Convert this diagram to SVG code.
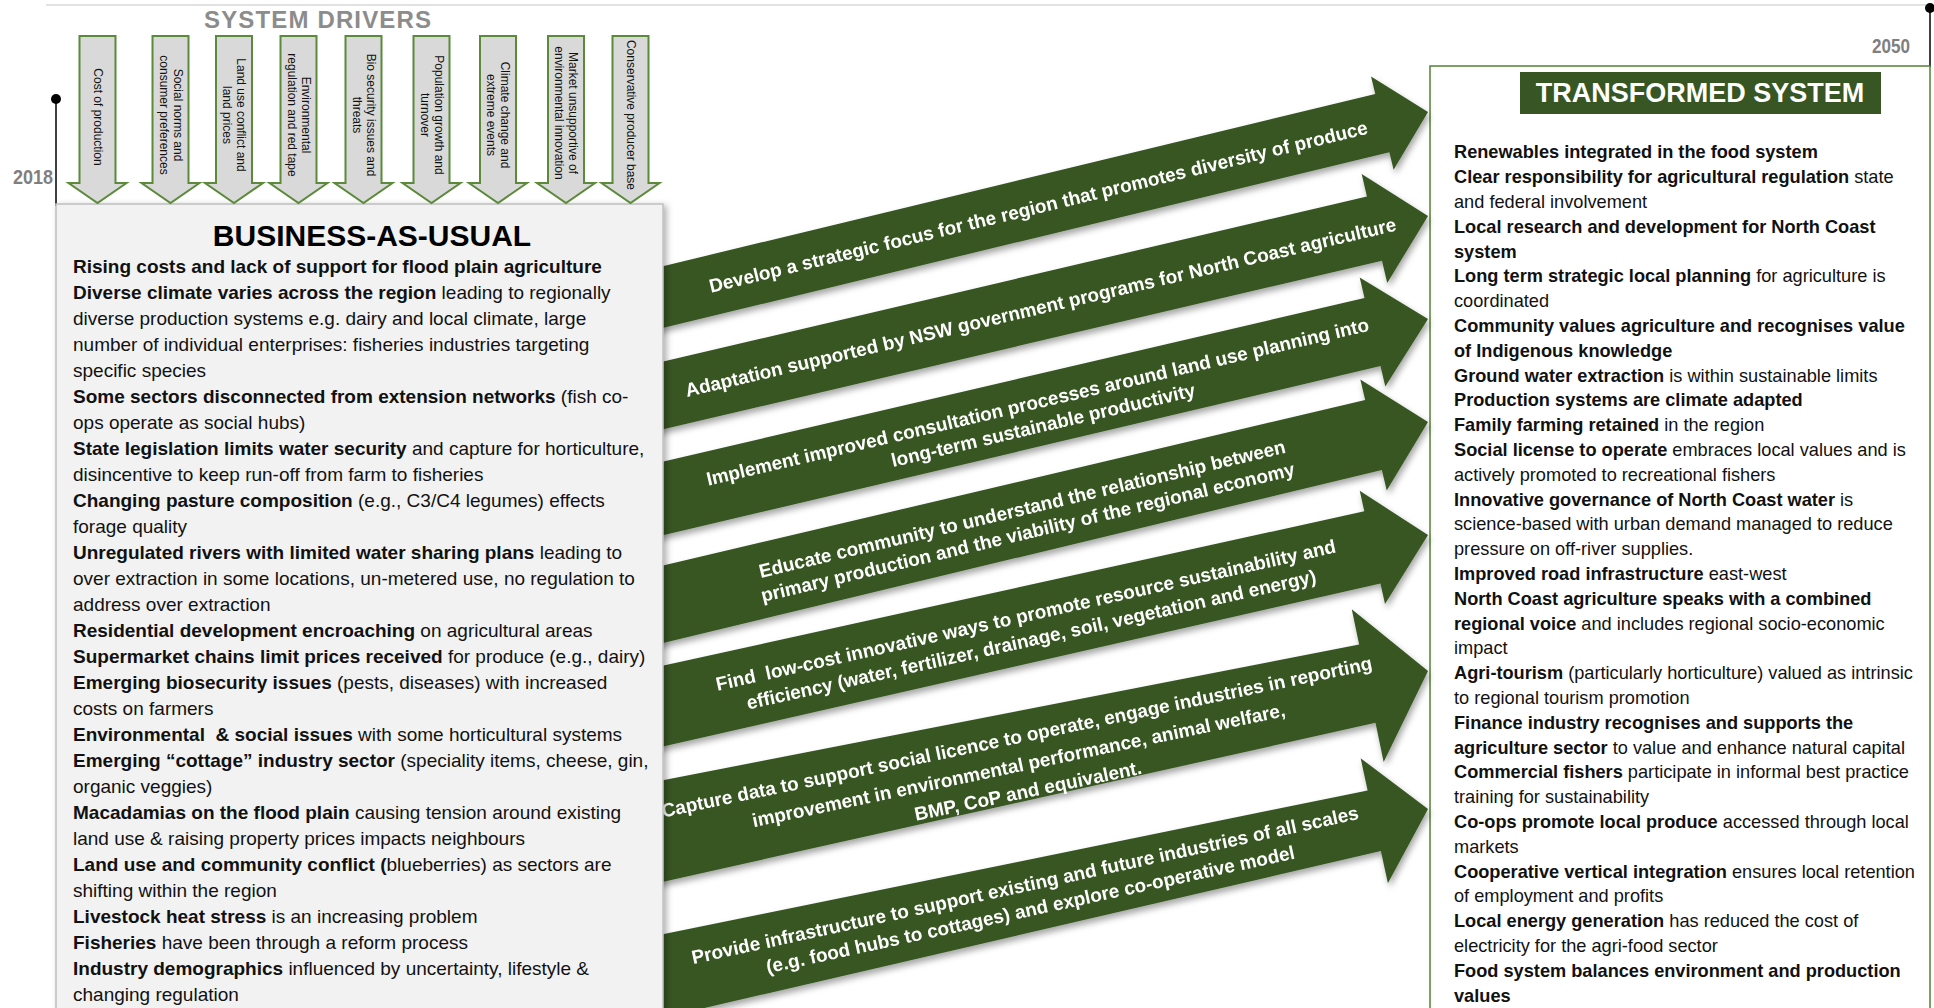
<svg xmlns="http://www.w3.org/2000/svg" width="1934" height="1008" viewBox="0 0 1934 1008">
<defs>
<style>
.t{font-family:"Liberation Sans",Arial,Helvetica,sans-serif}
.b{font-weight:bold}
.bau{font-size:19px;fill:#111}
.ts{font-size:18.2px;fill:#111}
.at{font-family:"Liberation Sans",Arial,Helvetica,sans-serif;font-size:19px;font-weight:bold;fill:#fff;text-anchor:middle}
.drv{font-family:"Liberation Sans",Arial,Helvetica,sans-serif;font-size:12px;fill:#111;text-anchor:middle}
.ga{fill:#375623}
.da{fill:#d9d9d9;stroke:#5a8a3a;stroke-width:2}
.yr{font-family:"Liberation Sans",Arial,Helvetica,sans-serif;font-weight:bold;font-size:21px;fill:#7f7f7f}
</style>
<filter id="sh" x="-5%" y="-30%" width="110%" height="160%">
<feDropShadow dx="2" dy="4" stdDeviation="3" flood-color="#000" flood-opacity="0.35"/>
</filter>
<filter id="sh2" x="-5%" y="-5%" width="110%" height="110%">
<feDropShadow dx="3" dy="2" stdDeviation="3" flood-color="#000" flood-opacity="0.3"/>
</filter>
</defs>
<rect width="1934" height="1008" fill="#fff"/>

<g id="timeline">
<line x1="46" y1="5" x2="1926" y2="5" stroke="#d9d9d9" stroke-width="1.5"/>
<line x1="56" y1="99" x2="56" y2="206" stroke="#000" stroke-width="1.5"/>
<circle cx="56" cy="99" r="5" fill="#000"/>
<line x1="1930" y1="8" x2="1930" y2="67" stroke="#000" stroke-width="1.5"/>
<circle cx="1930" cy="8" r="5" fill="#000"/>
<text class="yr" x="13" y="184" textLength="40" lengthAdjust="spacingAndGlyphs">2018</text>
<text class="yr" x="1872" y="53" textLength="38" lengthAdjust="spacingAndGlyphs">2050</text>
</g>

<g id="transformed-system">
<rect x="1430" y="66" width="500" height="950" fill="#fff" stroke="#538135" stroke-width="1.5"/>
<rect x="1520" y="72" width="361" height="42" fill="#375623"/>
<text class="t b" x="1700" y="102" font-size="27" fill="#fff" text-anchor="middle">TRANSFORMED SYSTEM</text>
<g class="t ts">
<text x="1454" y="158.3"><tspan class="b">Renewables integrated in the food system</tspan></text>
<text x="1454" y="183.1"><tspan class="b">Clear responsibility for agricultural regulation</tspan> state</text>
<text x="1454" y="207.9">and federal involvement</text>
<text x="1454" y="232.7"><tspan class="b">Local research and development for North Coast</tspan></text>
<text x="1454" y="257.5"><tspan class="b">system</tspan></text>
<text x="1454" y="282.3"><tspan class="b">Long term strategic local planning</tspan> for agriculture is</text>
<text x="1454" y="307.1">coordinated</text>
<text x="1454" y="331.9"><tspan class="b">Community values agriculture and recognises value</tspan></text>
<text x="1454" y="356.7"><tspan class="b">of Indigenous knowledge</tspan></text>
<text x="1454" y="381.5"><tspan class="b">Ground water extraction</tspan> is within sustainable limits</text>
<text x="1454" y="406.3"><tspan class="b">Production systems are climate adapted</tspan></text>
<text x="1454" y="431.1"><tspan class="b">Family farming retained</tspan> in the region</text>
<text x="1454" y="455.9"><tspan class="b">Social license to operate</tspan> embraces local values and is</text>
<text x="1454" y="480.7">actively promoted to recreational fishers</text>
<text x="1454" y="505.5"><tspan class="b">Innovative governance of North Coast water</tspan> is</text>
<text x="1454" y="530.3">science-based with urban demand managed to reduce</text>
<text x="1454" y="555.1">pressure on off-river supplies.</text>
<text x="1454" y="579.9"><tspan class="b">Improved road infrastructure</tspan> east-west</text>
<text x="1454" y="604.7"><tspan class="b">North Coast agriculture speaks with a combined</tspan></text>
<text x="1454" y="629.5"><tspan class="b">regional voice</tspan> and includes regional socio-economic</text>
<text x="1454" y="654.3">impact</text>
<text x="1454" y="679.1"><tspan class="b">Agri-tourism</tspan> (particularly horticulture) valued as intrinsic</text>
<text x="1454" y="703.9">to regional tourism promotion</text>
<text x="1454" y="728.7"><tspan class="b">Finance industry recognises and supports the</tspan></text>
<text x="1454" y="753.5"><tspan class="b">agriculture sector</tspan> to value and enhance natural capital</text>
<text x="1454" y="778.3"><tspan class="b">Commercial fishers</tspan> participate in informal best practice</text>
<text x="1454" y="803.1">training for sustainability</text>
<text x="1454" y="827.9"><tspan class="b">Co-ops promote local produce</tspan> accessed through local</text>
<text x="1454" y="852.7">markets</text>
<text x="1454" y="877.5"><tspan class="b">Cooperative vertical integration</tspan> ensures local retention</text>
<text x="1454" y="902.3">of employment and profits</text>
<text x="1454" y="927.1"><tspan class="b">Local energy generation</tspan> has reduced the cost of</text>
<text x="1454" y="951.9">electricity for the agri-food sector</text>
<text x="1454" y="976.7"><tspan class="b">Food system balances environment and production</tspan></text>
<text x="1454" y="1001.5"><tspan class="b">values</tspan></text>
</g>
</g>

<g id="connectors" filter="url(#sh)">
<g id="pathway-1" transform="translate(1428,112) rotate(-13.6)">
<path class="ga" d="M-950,-30 L-47,-30 L-47,-48 L0,0 L-47,48 L-47,30 L-950,30 Z"/>
<text class="at" x="-401" y="7">Develop a strategic focus for the region that promotes diversity of produce</text>
</g>
<g id="pathway-2" transform="translate(1428,216) rotate(-13.2)">
<path class="ga" d="M-950,-33 L-55,-33 L-55,-56 L0,0 L-55,56 L-55,33 L-950,33 Z"/>
<text class="at" x="-398" y="7">Adaptation supported by NSW government programs for North Coast agriculture</text>
</g>
<g id="pathway-3" transform="translate(1428,319) rotate(-13.2)">
<path class="ga" d="M-950,-36 L-57,-35 L-57,-56 L0,0 L-57,56 L-57,35 L-950,36 Z"/>
<text class="at" x="-399" y="-2">Implement improved consultation processes around land use planning into</text>
<text class="at" x="-399" y="22">long-term sustainable productivity</text>
</g>
<g id="pathway-4" transform="translate(1428,422) rotate(-13.4)">
<path class="ga" d="M-950,-38 L-56,-36 L-56,-57 L0,0 L-56,57 L-56,36 L-950,38 Z"/>
<text class="at" x="-415" y="-3">Educate community to understand the relationship between</text>
<text class="at" x="-415" y="21">primary production and the viability of the regional economy</text>
</g>
<g id="pathway-5" transform="translate(1428,535) rotate(-12.6)">
<path class="ga" d="M-950,-40 L-57,-37 L-57,-58 L0,0 L-57,58 L-57,37 L-950,40 Z"/>
<text class="at" x="-410" y="-3">Find&#160; low-cost innovative ways to promote resource sustainability and</text>
<text class="at" x="-410" y="22">efficiency (water, fertilizer, drainage, soil, vegetation and energy)</text>
</g>
<g id="pathway-6" transform="translate(1428,671) rotate(-11.8)">
<path class="ga" d="M-950,-52 L-62,-40 L-62,-76 L0,0 L-62,80 L-62,40 L-950,52 Z"/>
<text class="at" x="-416" y="-13">Capture data to support social licence to operate, engage industries in reporting</text>
<text class="at" x="-420" y="15">improvement in environmental performance, animal welfare,</text>
<text class="at" x="-416" y="42">BMP, CoP and equivalent.</text>
</g>
<g id="pathway-7" transform="translate(1428,809) rotate(-12.3)">
<path class="ga" d="M-950,-43 L-55,-31 L-55,-64 L0,0 L-55,64 L-55,31 L-950,43 Z"/>
<text class="at" x="-410" y="-5">Provide infrastructure to support existing and future industries of all scales</text>
<text class="at" x="-410" y="20">(e.g. food hubs to cottages) and explore co-operative model</text>
</g>
</g>

<g id="business-as-usual">
<rect x="56" y="204" width="607" height="820" fill="#f2f2f2" stroke="#bfbfbf" stroke-width="1.5" filter="url(#sh2)"/>
<text class="t b" x="372" y="246" font-size="30" fill="#000" text-anchor="middle">BUSINESS-AS-USUAL</text>
<g class="t bau">
<text x="73" y="273"><tspan class="b">Rising costs and lack of support for flood plain agriculture</tspan></text>
<text x="73" y="299"><tspan class="b">Diverse climate varies across the region</tspan> leading to regionally</text>
<text x="73" y="325">diverse production systems e.g. dairy and local climate, large</text>
<text x="73" y="351">number of individual enterprises: fisheries industries targeting</text>
<text x="73" y="377">specific species</text>
<text x="73" y="403"><tspan class="b">Some sectors disconnected from extension networks</tspan> (fish co-</text>
<text x="73" y="429">ops operate as social hubs)</text>
<text x="73" y="455"><tspan class="b">State legislation limits water security</tspan> and capture for horticulture,</text>
<text x="73" y="481">disincentive to keep run-off from farm to fisheries</text>
<text x="73" y="507"><tspan class="b">Changing pasture composition</tspan> (e.g., C3/C4 legumes) effects</text>
<text x="73" y="533">forage quality</text>
<text x="73" y="559"><tspan class="b">Unregulated rivers with limited water sharing plans</tspan> leading to</text>
<text x="73" y="585">over extraction in some locations, un-metered use, no regulation to</text>
<text x="73" y="611">address over extraction</text>
<text x="73" y="637"><tspan class="b">Residential development encroaching</tspan> on agricultural areas</text>
<text x="73" y="663"><tspan class="b">Supermarket chains limit prices received</tspan> for produce (e.g., dairy)</text>
<text x="73" y="689"><tspan class="b">Emerging biosecurity issues</tspan> (pests, diseases) with increased</text>
<text x="73" y="715">costs on farmers</text>
<text x="73" y="741"><tspan class="b">Environmental&#160; &amp; social issues</tspan> with some horticultural systems</text>
<text x="73" y="767"><tspan class="b">Emerging “cottage” industry sector</tspan> (speciality items, cheese, gin,</text>
<text x="73" y="793">organic veggies)</text>
<text x="73" y="819"><tspan class="b">Macadamias on the flood plain</tspan> causing tension around existing</text>
<text x="73" y="845">land use &amp; raising property prices impacts neighbours</text>
<text x="73" y="871"><tspan class="b">Land use and community conflict (</tspan>blueberries) as sectors are</text>
<text x="73" y="897">shifting within the region</text>
<text x="73" y="923"><tspan class="b">Livestock heat stress</tspan> is an increasing problem</text>
<text x="73" y="949"><tspan class="b">Fisheries</tspan> have been through a reform process</text>
<text x="73" y="975"><tspan class="b">Industry demographics</tspan> influenced by uncertainty, lifestyle &amp;</text>
<text x="73" y="1001">changing regulation</text>
</g>
</g>

<g id="system-drivers">
<text class="t b" x="204" y="28" font-size="24" fill="#8c8c8c" textLength="227">SYSTEM DRIVERS</text>
<g id="driver-1">
<path class="da" d="M79.5,36 H115.5 V183 H126.5 L97.5,203 L68.5,183 H79.5 Z"/>
<text class="drv" transform="translate(97.5,117) rotate(90)" y="4">Cost of production</text>
</g>
<g id="driver-2">
<path class="da" d="M152.5,36 H188.5 V183 H199.5 L170.5,203 L141.5,183 H152.5 Z"/>
<text class="drv" transform="translate(170.5,115) rotate(90)" y="-3">Social norms and</text>
<text class="drv" transform="translate(170.5,115) rotate(90)" y="11">consumer preferences</text>
</g>
<g id="driver-3">
<path class="da" d="M216,36 H252 V183 H263 L234,203 L205,183 H216 Z"/>
<text class="drv" transform="translate(234,115) rotate(90)" y="-3">Land use conflict and</text>
<text class="drv" transform="translate(234,115) rotate(90)" y="11">land prices</text>
</g>
<g id="driver-4">
<path class="da" d="M280.5,36 H316.5 V183 H327.5 L298.5,203 L269.5,183 H280.5 Z"/>
<text class="drv" transform="translate(298.5,115) rotate(90)" y="-3">Environmental</text>
<text class="drv" transform="translate(298.5,115) rotate(90)" y="11">regulation and red tape</text>
</g>
<g id="driver-5">
<path class="da" d="M345.5,36 H381.5 V183 H392.5 L363.5,203 L334.5,183 H345.5 Z"/>
<text class="drv" transform="translate(363.5,115) rotate(90)" y="-3">Bio security issues and</text>
<text class="drv" transform="translate(363.5,115) rotate(90)" y="11">threats</text>
</g>
<g id="driver-6">
<path class="da" d="M413.5,36 H449.5 V183 H460.5 L431.5,203 L402.5,183 H413.5 Z"/>
<text class="drv" transform="translate(431.5,115) rotate(90)" y="-3">Population growth and</text>
<text class="drv" transform="translate(431.5,115) rotate(90)" y="11">turnover</text>
</g>
<g id="driver-7">
<path class="da" d="M480,36 H516 V183 H527 L498,203 L469,183 H480 Z"/>
<text class="drv" transform="translate(498,115) rotate(90)" y="-3">Climate change and</text>
<text class="drv" transform="translate(498,115) rotate(90)" y="11">extreme events</text>
</g>
<g id="driver-8">
<path class="da" d="M548,36 H584 V183 H595 L566,203 L537,183 H548 Z"/>
<text class="drv" transform="translate(566,113) rotate(90)" y="-3">Market unsupportive of</text>
<text class="drv" transform="translate(566,113) rotate(90)" y="11">environmental innovation</text>
</g>
<g id="driver-9">
<path class="da" d="M612.5,36 H648.5 V183 H659.5 L630.5,203 L601.5,183 H612.5 Z"/>
<text class="drv" transform="translate(630.5,115) rotate(90)" y="4">Conservative producer base</text>
</g>
</g>
</svg>
